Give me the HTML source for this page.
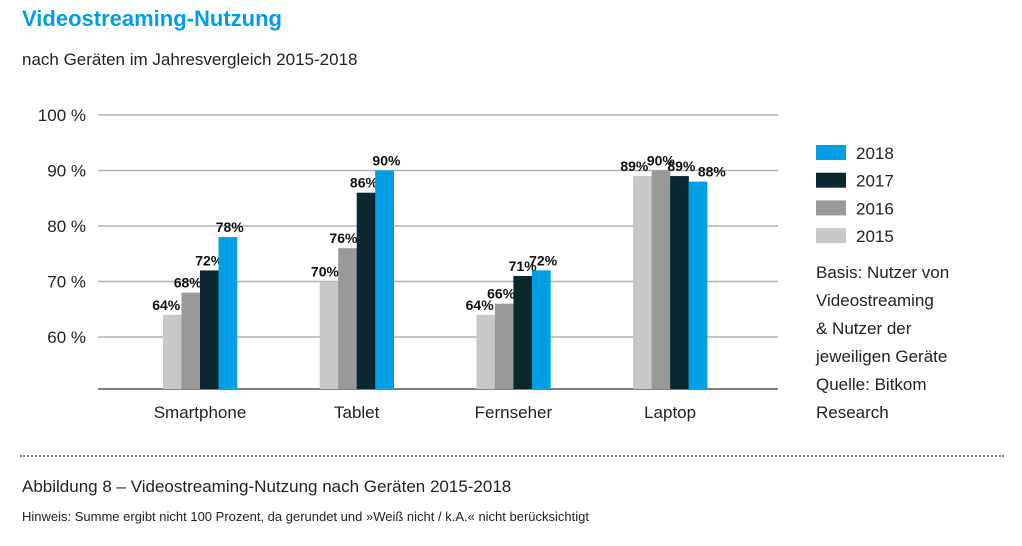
<!DOCTYPE html>
<html><head><meta charset="utf-8"><style>
body{margin:0;width:1022px;height:546px;background:#fff;font-family:"Liberation Sans",sans-serif;overflow:hidden;position:relative}
.t{position:absolute;white-space:nowrap}
</style></head><body>
<div class="t" style="left:22px;top:6px;font-size:22px;font-weight:bold;color:#009fe3">Videostreaming-Nutzung</div>
<div class="t" style="left:22px;top:50px;font-size:17px;color:#222">nach Geräten im Jahresvergleich 2015-2018</div>
<svg id="c" width="1022" height="546" style="position:absolute;left:0;top:0"></svg>
<div style="position:absolute;left:20px;top:455px;width:984px;border-top:2px dotted #888"></div>
<div class="t" style="left:22px;top:477px;font-size:17px;color:#222">Abbildung 8 – Videostreaming-Nutzung nach Geräten 2015-2018</div>
<div class="t" style="left:22px;top:509px;font-size:13px;color:#222">Hinweis: Summe ergibt nicht 100 Prozent, da gerundet und »Weiß nicht / k.A.« nicht berücksichtigt</div>
<script>
const categories=["Smartphone","Tablet","Fernseher","Laptop"];
const years=["2015","2016","2017","2018"];
const v2015=[64,70,64,89];
const v2016=[68,76,66,90];
const v2017=[72,86,71,89];
const v2018=[78,90,72,88];
const ticks=[60,70,80,90,100];
const colors=["#c8c8c8","#999999","#0b2830","#009fe3"];
const series=[v2015,v2016,v2017,v2018];
const NS="http://www.w3.org/2000/svg";
const svg=document.getElementById("c");
function y(v){return 337-(v-60)*5.55;}
function gx(i){return 163+i*156.7;}
const bw=18.5,base=389;
function mk(t,a,txt){const e=document.createElementNS(NS,t);for(const k in a)e.setAttribute(k,a[k]);if(txt!==undefined)e.textContent=txt;svg.appendChild(e);return e;}
ticks.forEach(t=>{
 const l=mk("line",{x1:98,x2:778,y1:y(t),y2:y(t),stroke:"#b0b0b0","stroke-width":1.5});
 
 
 const tx=mk("text",{x:86,y:y(t)+6,"text-anchor":"end","font-size":17,fill:"#222"},t+" %");
 
 
});
const ax=mk("line",{x1:98,x2:778,y1:base,y2:base,stroke:"#555","stroke-width":1.5});


const dx=[[-6,-3,0,2],[-4,-4,-2,2],[-6,-3,0,2],[-8,0,2,14]];
categories.forEach((c,i)=>{
 series.forEach((s,j)=>{
  const x=gx(i)+j*bw;
  const r=mk("rect",{x:x,y:y(s[i]),width:bw+0.3,height:base-y(s[i]),fill:colors[j]});
  
  
  const lt=mk("text",{x:x+bw/2+dx[i][j],y:y(s[i])-5,"text-anchor":"middle","font-size":14,"font-weight":"bold",fill:"#111"},s[i]+"%");
  
  
 });
 const cl=mk("text",{x:gx(i)+2*bw,y:418,"text-anchor":"middle","font-size":17,fill:"#222"},c);
 
 
});
[3,2,1,0].forEach((j,k)=>{
 const yy=145+k*27.7;
 const r=mk("rect",{x:816,y:yy,width:30,height:15,fill:colors[j]});
 
 
 const t=mk("text",{x:856,y:yy+14,"font-size":17,fill:"#222"},years[j]);
 
 
});
["Basis: Nutzer von","Videostreaming","& Nutzer der","jeweiligen Geräte","Quelle: Bitkom","Research"].forEach((s,k)=>{
 const t=mk("text",{x:816,y:278+k*28,"font-size":17,fill:"#222"},s);
 
 
});
</script>
</body></html>
